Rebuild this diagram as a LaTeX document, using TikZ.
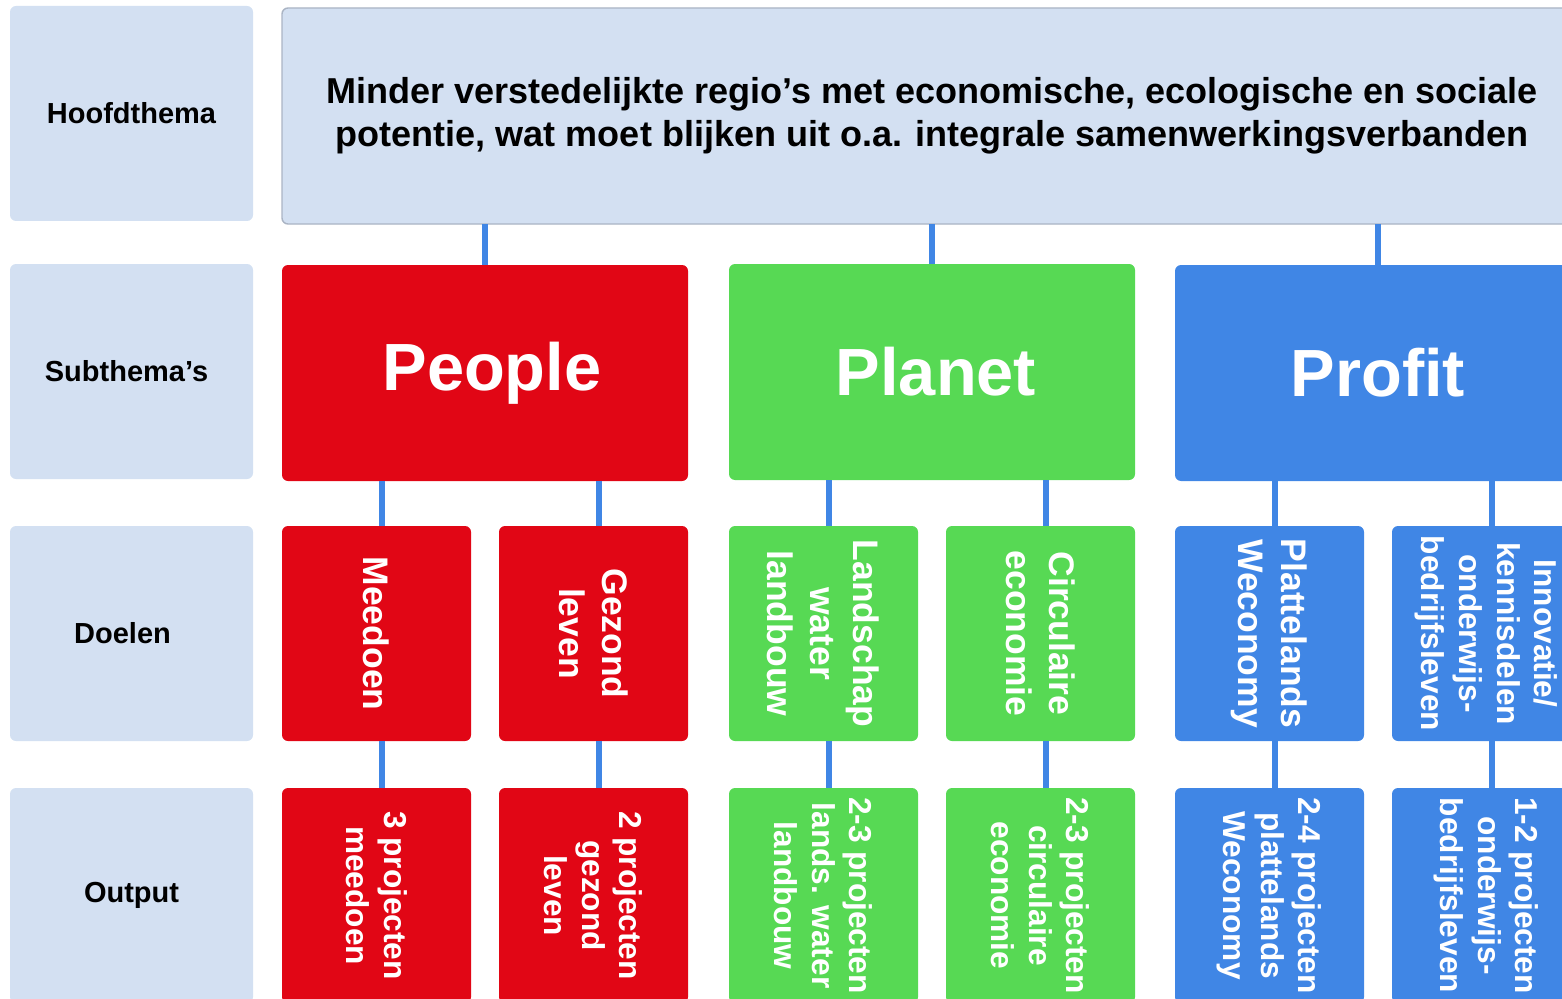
\documentclass[tikz,border=0pt]{standalone}
\usepackage{fontspec}
\setmainfont{Liberation Sans}
\usetikzlibrary{calc}

\definecolor{lblue}{RGB}{211,224,242}
\definecolor{rim}{RGB}{170,180,196}
\definecolor{pred}{RGB}{225,6,21}
\definecolor{pgreen}{RGB}{87,217,84}
\definecolor{pblue}{RGB}{64,134,229}

\begin{document}
\begin{tikzpicture}[
	box/.style={rounded corners=0.06cm, inner sep=0pt, outer sep=0pt, anchor=north west},
	rowlabel/.style={box, fill=lblue, minimum width=2.43cm, minimum height=2.15cm, font=\bfseries\fontsize{8.25}{10}\selectfont},
	subbox/.style={box, minimum width=4.06cm, minimum height=2.16cm, text=white, font=\bfseries\fontsize{19}{22}\selectfont},
	goalbox/.style={box, minimum width=1.89cm, minimum height=2.15cm},
	vtext/.style={rotate=-90, align=center, text=white, inner sep=0pt},
	big/.style={font=\bfseries\fontsize{10.1}{12.2}\selectfont},
	small/.style={font=\bfseries\fontsize{9}{10.7}\selectfont},
	link/.style={pblue, line width=0.06cm}]
		\newcommand{\doel}[6]{\node[goalbox, fill=#4, label={[vtext, #6]center:{#5}}] (#1) at (#2,#3) {};}
		\useasboundingbox (0,0) rectangle (15.62,9.98);
		% linkerkolom
		\node[rowlabel] (hoofd) at (0.10,9.92) {Hoofdthema};
		\node[rowlabel] (sub) at (0.10,7.34) {Subthema’s\kern0.1cm};
		\node[rowlabel] (doelen) at (0.10,4.72) {Doelen\kern0.18cm};
		\node[rowlabel] (output) at (0.10,2.10) {Output};
		% hoofdthema
		\node[box, fill=lblue, draw=rim, line width=0.4pt, minimum width=13cm, minimum height=2.16cm, align=center, font=\bfseries\fontsize{10.25}{12.3}\selectfont] (main) at (2.82,9.90)
			{Minder verstedelijkte regio’s met economische, ecologische en sociale\\potentie, wat moet blijken uit o.a. integrale samenwerkingsverbanden};
		% subthema's
		\node[subbox, fill=pred] (people) at (2.82,7.33) {\kern0.14cm People};
		\node[subbox, fill=pgreen] (planet) at (7.29,7.34) {\kern0.08cm Planet};
		\node[subbox, fill=pblue] (profit) at (11.75,7.33) {Profit};
		% doelen
		\doel{meedoen}{2.82}{4.72}{pred}{Meedoen}{big}
		\doel{gezond}{4.99}{4.72}{pred}{Gezond\\leven}{big}
		\doel{landschap}{7.29}{4.72}{pgreen}{Landschap\\water\\landbouw}{big}
		\doel{circulair}{9.46}{4.72}{pgreen}{Circulaire\\economie}{big}
		\doel{platteland}{11.75}{4.72}{pblue}{Plattelands\\Weconomy}{big}
		\doel{innovatie}{13.92}{4.72}{pblue}{Innovatie/\\kennisdelen\\onderwijs-\\bedrijfsleven}{small}
		% output
		\doel{outmee}{2.82}{2.10}{pred}{3 projecten\\meedoen}{small}
		\doel{outgez}{4.99}{2.10}{pred}{2 projecten\\gezond\\leven}{small}
		\doel{outland}{7.29}{2.10}{pgreen}{2-3 projecten\\lands. water\\landbouw}{small}
		\doel{outcirc}{9.46}{2.10}{pgreen}{2-3 projecten\\circulaire\\economie}{small}
		\doel{outplat}{11.75}{2.10}{pblue}{2-4 projecten\\plattelands\\Weconomy}{small}
		\doel{outinno}{13.92}{2.10}{pblue}{1-2 projecten\\onderwijs-\\bedrijfsleven}{small}
		% verbindingen
		\foreach \s in {people,planet,profit}
			\draw[link] (main.south -| \s.north) -- (\s.north);
		\foreach \p/\c in {people/meedoen,people/gezond,planet/landschap,planet/circulair,profit/platteland,profit/innovatie}
			\draw[link] ([xshift=0.05cm]\p.south -| \c.north) -- ([xshift=0.05cm]\c.north);
		\foreach \d/\o in {meedoen/outmee,gezond/outgez,landschap/outland,circulair/outcirc,platteland/outplat,innovatie/outinno}
			\draw[link] ([xshift=0.05cm]\d.south) -- ([xshift=0.05cm]\o.north);
	\end{tikzpicture}
\end{document}
